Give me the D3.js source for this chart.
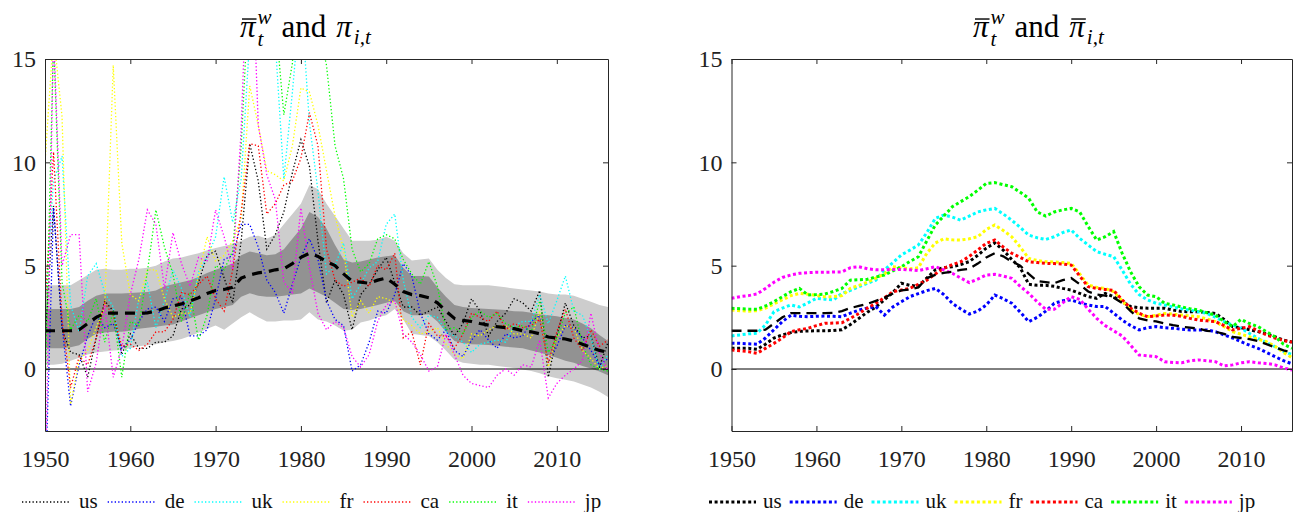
<!DOCTYPE html>
<html><head><meta charset="utf-8">
<script src="https://cdn.jsdelivr.net/npm/d3@7/dist/d3.min.js"></script>
<style>
body{margin:0;background:#fff}
svg{display:block}
svg text{font-family:"Liberation Serif",serif !important;}
</style>
</head><body>
<svg id="chart" width="1293" height="512" font-family="Liberation Serif, serif"></svg>
<script>
// ---------------- DATA ----------------
const years = d3.range(1950, 2017);
const countries = ["us","de","uk","fr","ca","it","jp"];
const colors = ["#000000","#0000ff","#00ffff","#ffff00","#ff0000","#00ff00","#ff00ff"];
const xTicks = [1950,1960,1970,1980,1990,2000,2010];
const yTicks = [0,5,10,15];

// annual inflation pi_{i,t}
const us = [1.3,7.9,1.9,0.8,0.7,-0.4,1.5,3.3,2.8,0.7,1.7,1.0,1.0,1.3,1.3,1.6,2.9,3.1,4.2,5.5,5.7,4.4,3.2,6.2,10.9,9.1,5.8,6.5,7.6,9.5,11.1,9.8,6.2,3.2,4.3,3.6,1.9,3.6,4.1,4.8,5.4,4.2,3.0,3.0,2.6,2.8,3.0,2.3,1.6,2.2,3.4,2.8,1.6,2.3,2.7,3.4,3.2,2.8,3.8,-0.4,1.6,3.2,2.1,1.5,1.6,0.1,1.3];
const de = [-6.4,7.8,2.1,-1.8,0.2,1.6,2.6,2.0,2.2,1.0,1.4,2.3,2.9,3.0,2.3,3.4,3.5,1.6,1.6,1.9,3.4,5.3,5.5,7.0,7.0,5.9,4.3,3.7,2.7,4.1,5.4,6.3,5.3,3.3,2.4,2.1,-0.1,0.2,1.3,2.8,2.7,3.6,5.1,4.5,2.7,1.7,1.4,1.9,0.9,0.6,1.4,1.9,1.4,1.0,1.7,1.5,1.6,2.3,2.6,0.3,1.1,2.1,2.0,1.5,0.9,0.2,0.5];
const uk = [3.1,9.1,10.3,3.1,1.8,4.5,5.1,3.7,3.0,0.6,1.0,3.4,4.2,2.0,3.3,4.8,3.9,2.5,4.7,5.4,6.4,9.3,7.1,9.2,16.0,24.2,16.5,15.8,9.2,13.4,18.0,11.9,8.6,4.6,5.0,6.1,3.4,4.1,4.9,5.2,7.0,7.5,4.3,2.5,2.0,2.6,2.5,1.8,1.6,1.3,0.8,1.2,1.3,1.4,1.3,2.1,2.3,2.3,3.6,2.2,3.3,4.5,2.8,2.6,1.5,0.0,0.7];
const fr = [10.0,16.2,12.2,-1.7,0.4,0.9,2.0,3.0,14.7,6.1,3.6,3.3,4.8,4.8,3.4,2.5,2.7,2.7,4.5,6.4,5.2,5.5,6.2,7.3,13.7,11.8,9.6,9.4,9.1,10.8,13.6,13.4,11.8,9.6,7.4,5.8,2.5,3.3,2.7,3.5,3.4,3.2,2.4,2.1,1.7,1.8,2.0,1.2,0.7,0.5,1.7,1.6,1.9,2.1,2.1,1.7,1.7,1.5,2.8,0.1,1.5,2.1,2.0,0.9,0.5,0.0,0.2];
const ca = [2.8,10.5,2.4,-0.9,0.6,0.2,1.5,3.2,2.6,1.1,1.2,0.9,1.2,1.8,1.8,2.4,3.7,3.6,4.1,4.5,3.4,2.8,4.8,7.6,10.9,10.8,7.5,8.0,8.9,9.1,10.2,12.4,10.8,5.8,4.3,4.0,4.2,4.4,4.0,5.0,4.8,5.6,1.5,1.8,0.2,2.2,1.6,1.6,1.0,1.7,2.7,2.5,2.3,2.8,1.9,2.2,2.0,2.1,2.4,0.3,1.8,2.9,1.5,0.9,1.9,1.1,1.4];
const it = [-1.3,16.0,4.2,1.9,2.6,2.3,3.4,1.3,2.8,-0.4,2.3,2.1,4.7,7.7,5.9,4.6,2.3,3.7,1.4,2.6,5.0,4.8,5.7,10.8,19.1,17.0,16.8,17.0,12.3,14.8,21.2,17.8,16.5,14.7,10.8,9.2,5.8,4.7,5.1,6.3,6.5,6.3,5.3,4.6,4.1,5.2,4.0,1.9,2.0,1.7,2.5,2.8,2.5,2.7,2.2,2.0,2.1,1.8,3.3,0.8,1.5,2.7,3.0,1.2,0.2,0.0,-0.1];
const jp = [-7.0,16.4,5.0,6.5,6.5,-1.1,0.3,3.1,-0.4,1.0,3.6,5.3,7.7,7.0,3.9,6.6,5.1,4.0,5.4,5.2,7.7,6.4,4.8,11.6,23.2,11.8,9.4,8.2,4.2,3.7,7.8,4.9,2.7,1.9,2.3,2.0,0.6,0.1,0.7,2.3,3.1,3.3,1.7,1.3,0.7,-0.1,0.1,1.7,0.7,-0.3,-0.7,-0.8,-0.9,-0.3,0.0,-0.3,0.2,0.1,1.4,-1.4,-0.7,-0.3,0.0,0.4,2.7,0.8,-0.1];

// country trends pi-bar_{i,t}
const usTrend = [1.0,1.0,1.0,0.95,1.2,1.5,1.65,1.76,1.82,1.84,1.85,1.85,1.86,1.9,2.15,2.45,2.75,3.0,3.35,3.7,4.15,4.05,4.0,4.4,4.8,4.9,4.95,5.05,5.2,5.5,5.85,6.1,5.75,5.3,4.9,4.1,4.05,4.05,4.0,3.9,3.82,3.66,3.5,3.42,3.66,3.5,3.25,3.02,2.97,2.94,2.94,2.94,2.85,2.78,2.77,2.77,2.73,2.69,2.4,2.05,2.0,1.9,1.81,1.7,1.56,1.4,1.3];
const deTrend = [1.25,1.24,1.22,1.2,1.5,1.9,2.3,2.6,2.55,2.53,2.55,2.56,2.55,2.53,2.7,2.85,2.95,3.02,2.61,3.0,3.25,3.5,3.65,3.79,3.9,3.6,3.18,2.9,2.66,2.8,3.1,3.58,3.4,3.18,2.75,2.29,2.5,2.8,3.18,3.3,3.34,3.2,3.1,3.02,3.02,2.7,2.37,2.1,1.89,2.0,2.05,2.0,1.97,1.93,1.89,1.89,1.89,1.8,1.65,1.5,1.32,1.15,1.0,0.8,0.6,0.4,0.25];
const ukTrend = [1.6,1.65,1.7,1.73,2.13,2.77,2.95,3.1,3.0,3.2,3.42,3.38,3.34,3.66,3.8,3.98,4.15,4.3,4.79,5.15,5.52,5.75,6.0,6.6,7.29,7.45,7.35,7.2,7.4,7.6,7.7,7.77,7.5,7.2,6.85,6.48,6.35,6.27,6.4,6.6,6.73,6.32,6.0,5.68,5.55,5.44,4.79,4.1,3.6,3.34,3.18,3.1,3.0,2.92,2.85,2.77,2.69,2.5,2.29,2.13,1.97,1.72,1.48,1.28,1.08,0.85,0.7];
const frTrend = [2.85,2.82,2.8,2.82,2.95,3.15,3.35,3.55,3.66,3.62,3.55,3.5,3.5,3.55,3.9,4.05,4.2,4.4,4.6,4.95,4.9,4.85,4.9,5.6,6.1,6.3,6.25,6.24,6.3,6.4,6.75,6.97,6.7,6.4,5.9,5.35,5.25,5.19,5.18,5.15,5.11,4.6,4.06,3.95,3.9,3.74,3.3,2.85,2.65,2.53,2.6,2.69,2.65,2.61,2.57,2.53,2.42,2.29,2.05,1.81,1.68,1.56,1.44,1.32,1.1,0.8,0.55];
const caTrend = [0.92,0.88,0.84,0.76,1.0,1.24,1.5,1.81,1.9,1.97,2.1,2.21,2.22,2.24,2.45,2.69,2.95,3.18,3.45,3.74,3.82,3.9,4.1,4.3,4.6,4.87,5.05,5.19,5.45,5.76,6.08,6.24,5.9,5.6,5.4,5.19,5.15,5.11,5.1,5.08,5.03,4.5,3.98,3.9,3.85,3.8,3.35,2.94,2.7,2.53,2.57,2.61,2.6,2.55,2.45,2.37,2.33,2.29,2.1,1.89,1.97,2.05,1.85,1.65,1.5,1.38,1.3];
const itTrend = [2.94,2.92,2.9,2.89,3.05,3.26,3.5,3.74,3.9,3.58,3.6,3.63,3.75,3.9,4.3,4.32,4.34,4.45,4.55,4.75,4.95,5.2,5.43,6.2,6.97,7.4,7.85,8.1,8.34,8.65,8.98,9.02,8.92,8.82,8.55,8.26,7.6,7.4,7.6,7.7,7.77,7.6,6.9,6.24,6.4,6.65,5.6,4.7,3.98,3.58,3.5,3.18,3.1,3.0,2.92,2.85,2.72,2.6,2.3,2.05,2.4,2.2,2.05,1.8,1.56,1.2,1.0];
const jpTrend = [3.42,3.5,3.55,3.63,3.9,4.2,4.43,4.55,4.63,4.66,4.68,4.68,4.69,4.7,4.9,4.95,4.85,4.8,4.8,4.82,4.82,4.8,4.76,4.85,4.95,4.8,4.63,4.4,4.18,4.35,4.55,4.58,4.5,4.39,4.0,3.66,3.25,2.89,2.89,3.2,3.5,3.37,2.9,2.45,2.1,1.85,1.6,1.15,0.68,0.64,0.6,0.35,0.32,0.3,0.4,0.44,0.4,0.35,0.15,0.2,0.3,0.35,0.3,0.27,0.2,0.05,-0.05];

// world trend pi-bar^w_t and bands
const worldTrend = [1.85,1.85,1.85,1.85,1.9,2.2,2.5,2.7,2.7,2.7,2.7,2.7,2.72,2.8,2.95,3.05,3.15,3.3,3.45,3.65,3.8,3.85,3.95,4.4,4.55,4.65,4.7,4.8,4.85,5.1,5.4,5.6,5.45,5.2,5.0,4.6,4.25,4.2,4.15,4.3,4.4,4.1,3.75,3.6,3.55,3.45,3.2,2.8,2.45,2.35,2.3,2.2,2.12,2.05,2.0,1.95,1.85,1.8,1.7,1.55,1.5,1.45,1.35,1.2,1.05,0.9,0.8];
const outerHi = [4.05,4.05,4.05,4.05,4.3,4.55,4.8,4.85,4.8,4.8,4.85,4.85,4.9,5.0,5.2,5.35,5.4,5.5,5.6,5.75,5.85,5.95,6.05,6.2,6.4,6.45,6.3,6.5,7.0,7.5,8.0,8.9,8.7,8.0,7.4,6.8,6.2,6.2,6.2,6.25,6.4,6.2,5.6,5.25,5.3,5.35,4.8,4.4,4.1,4.05,4.05,4.05,4.05,4.0,3.95,3.9,3.85,3.8,3.75,3.65,3.6,3.6,3.55,3.4,3.25,3.1,3.0];
const outerLo = [0.2,0.2,0.25,0.4,0.55,0.7,0.8,0.85,0.9,0.92,1.0,1.1,1.15,1.2,1.3,1.35,1.45,1.6,1.75,1.95,2.1,1.9,2.2,2.5,2.75,2.5,2.3,2.3,2.35,2.35,2.4,2.75,2.4,2.3,2.1,1.85,1.9,2.25,2.35,2.5,2.6,2.9,2.4,1.7,1.65,1.6,1.3,0.9,0.45,0.3,0.25,0.2,0.2,0.15,0.1,0.05,-0.02,-0.1,-0.2,-0.35,-0.45,-0.52,-0.6,-0.75,-0.9,-1.1,-1.35];
const innerHi = [2.9,2.9,2.9,2.9,3.0,3.3,3.55,3.65,3.65,3.65,3.68,3.7,3.72,3.8,4.0,4.1,4.2,4.3,4.45,4.65,4.8,4.95,5.1,5.5,5.68,5.6,5.5,5.55,5.8,6.3,6.8,7.6,7.35,6.8,6.0,5.3,5.15,5.2,5.3,5.4,5.45,5.5,4.9,4.5,4.5,4.47,3.95,3.5,3.1,3.0,2.95,2.93,2.9,2.88,2.85,2.8,2.78,2.72,2.65,2.6,2.55,2.47,2.4,2.2,1.97,1.65,1.35];
const innerLo = [1.0,1.0,1.0,1.05,1.15,1.45,1.7,1.77,1.8,1.8,1.85,1.95,2.0,2.05,2.1,2.15,2.3,2.45,2.6,2.75,2.9,3.0,3.1,3.5,3.66,3.55,3.5,3.5,3.55,3.6,3.65,3.9,3.7,3.5,3.2,2.9,2.85,2.9,3.0,3.1,3.2,3.3,2.8,2.6,2.6,2.65,2.3,1.8,1.35,1.25,1.2,1.18,1.16,1.12,1.08,1.04,1.0,0.9,0.8,0.68,0.55,0.4,0.3,0.15,0.03,-0.12,-0.3];

const annual = [us, de, uk, fr, ca, it, jp];
const trends = [usTrend, deTrend, ukTrend, frTrend, caTrend, itTrend, jpTrend];

// ---------------- DRAW ----------------
const svg = d3.select("#chart");
const SERIF = "Liberation Serif";
const TOP = 59, BOT = 431;
const axisColor = "#262626";

function txt(g, x, y, size, italic, s) {
  const el = g.append("text").attr("x", x).attr("y", y)
    .attr("font-family", SERIF).attr("font-size", size).attr("fill", "#000").text(s);
  if (italic) el.attr("font-style", "italic");
  return el;
}

function drawTitle(xStart, yBase, secondBar) {
  const fs = 31, ss = 21;
  const t = svg.append("g");
  let cx = xStart;
  function pi(bar) {
    const el = txt(t, cx, yBase, fs, true, "π");
    const w = el.node().getComputedTextLength();
    if (bar) t.append("line").attr("x1", cx + 2).attr("x2", cx + w + 1)
      .attr("y1", yBase - fs * 0.58).attr("y2", yBase - fs * 0.58)
      .attr("stroke", "#000").attr("stroke-width", 1.4);
    cx += w + 2;
  }
  pi(true);
  const sup = txt(t, cx, yBase - 13, ss, true, "w");
  txt(t, cx, yBase + 9, ss, true, "t");
  cx += sup.node().getComputedTextLength() + 10;
  const and = txt(t, cx, yBase, fs, false, "and");
  cx += and.node().getComputedTextLength() + 10;
  pi(secondBar);
  txt(t, cx, yBase + 7, ss, true, "i,t");
}

function drawPanel(id, x0, x1, smooth) {
  const x = d3.scaleLinear().domain([1950, 2016]).range([x0, x1]);
  const y = d3.scaleLinear().domain([-3, 15]).range([BOT, TOP]);
  const g = svg.append("g");
  svg.append("clipPath").attr("id", "clip" + id).append("rect")
    .attr("x", x0).attr("y", TOP).attr("width", x1 - x0).attr("height", BOT - TOP);
  const plot = g.append("g").attr("clip-path", `url(#clip${id})`);

  if (!smooth) {
    const areaOuter = d3.area().x((d, i) => x(years[i])).y0((d, i) => y(outerLo[i])).y1((d, i) => y(outerHi[i]));
    const areaInner = d3.area().x((d, i) => x(years[i])).y0((d, i) => y(innerLo[i])).y1((d, i) => y(innerHi[i]));
    plot.append("path").datum(years).attr("d", areaOuter).attr("fill", "#cdcdcd");
    plot.append("path").datum(years).attr("d", areaInner).attr("fill", "#929292");
  }
  plot.append("line").attr("x1", x(1950)).attr("x2", x(2016)).attr("y1", y(0)).attr("y2", y(0))
    .attr("stroke", "#000").attr("stroke-width", 1);

  const line = d3.line().x((d, i) => x(years[i])).y(d => y(d));
  const series = smooth ? trends : annual;
  series.forEach((s, k) => {
    plot.append("path").datum(s).attr("d", line).attr("fill", "none")
      .attr("stroke", colors[k])
      .attr("stroke-width", smooth ? 3 : 1.3)
      .attr("stroke-dasharray", smooth ? "3,2.6" : "1.3,2.2");
  });
  plot.append("path").datum(worldTrend).attr("d", line).attr("fill", "none")
    .attr("stroke", "#000").attr("stroke-width", smooth ? 2.3 : 3.2)
    .attr("stroke-dasharray", smooth ? "10,6" : "10,7");

  const bottom = d3.axisBottom(x).tickValues(xTicks).tickFormat(d3.format("d")).tickSizeInner(-5).tickSizeOuter(0).tickPadding(19);
  const top = d3.axisTop(x).tickValues(xTicks).tickFormat("").tickSizeInner(-5).tickSizeOuter(0);
  const left = d3.axisLeft(y).tickValues(yTicks).tickSizeInner(-5).tickSizeOuter(0).tickPadding(9);
  const right = d3.axisRight(y).tickValues(yTicks).tickFormat("").tickSizeInner(-5).tickSizeOuter(0);
  [[bottom, `translate(0,${BOT})`], [top, `translate(0,${TOP})`], [left, `translate(${x0},0)`], [right, `translate(${x1},0)`]]
    .forEach(([a, tr]) => {
      const s = g.append("g").attr("transform", tr).call(a);
      s.attr("font-family", SERIF).attr("font-size", 24);
      s.selectAll("path.domain").attr("stroke", axisColor);
      s.selectAll(".tick line").attr("stroke", axisColor);
      s.selectAll("text").attr("font-family", SERIF).attr("font-size", 24).attr("fill", "#222");
    });
}

function drawLegend(xStart, yc, thick, len, gapA, gapB) {
  const g = svg.append("g");
  let cx = xStart;
  countries.forEach((c, k) => {
    g.append("line").attr("x1", cx).attr("x2", cx + len).attr("y1", yc).attr("y2", yc)
      .attr("stroke", colors[k]).attr("stroke-width", thick ? 3 : 1.3)
      .attr("stroke-dasharray", thick ? "3,2.6" : "1.3,2.2");
    cx += len + gapA;
    const t = txt(g, cx, yc + 6, 21, false, c).attr("fill", "#111");
    cx += t.node().getComputedTextLength() + gapB;
  });
}

drawPanel("L", 45, 608, false);
drawPanel("R", 731.5, 1292, true);
drawTitle(240, 37, false);
drawTitle(973, 37, true);
drawLegend(22, 502, false, 48, 9, 10);
drawLegend(709, 502, true, 47, 7, 8);
</script>
</body></html>
